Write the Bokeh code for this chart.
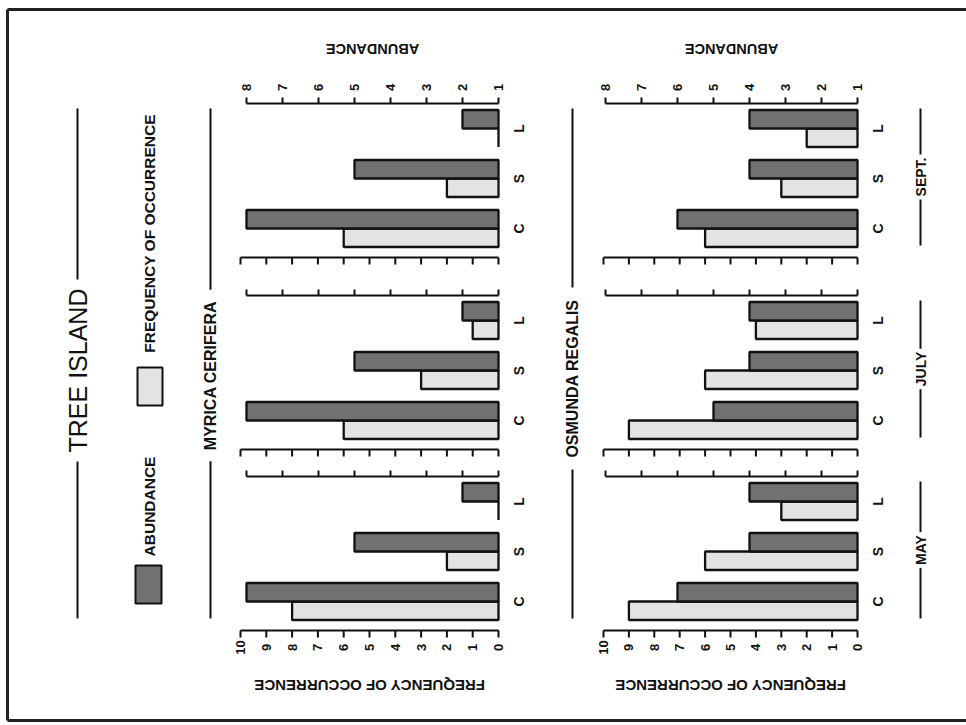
import math
from bokeh.plotting import figure
from bokeh.models import Range1d, ColumnDataSource
from bokeh.core.properties import value
from bokeh.embed import file_html
from bokeh.resources import INLINE

# ---- data -------------------------------------------------------------
months = ["MAY", "JULY", "SEPT."]
sites = ["C", "S", "L"]
species = ["MYRICA CERIFERA", "OSMUNDA REGALIS"]

# values per month (MAY, JULY, SEPT.), each listed for sites C, S, L
myrica_abundance = [[8, 5, 2], [8, 5, 2], [8, 5, 2]]
myrica_frequency = [[8, 2, 0], [6, 3, 1], [6, 2, 0]]
osmunda_abundance = [[6, 4, 4], [5, 4, 4], [6, 4, 4]]
osmunda_frequency = [[9, 6, 3], [9, 6, 4], [6, 3, 2]]

frequency_ticks = list(range(0, 11))
abundance_ticks = list(range(1, 9))

# ---- layout (pixels, y grows downward) ----------------------------------
W, H = 966, 725
FONT = value("Liberation Sans")
DARK = "#717171"
LIGHT = "#e3e3e3"
INK = "#111111"

baseline_px = [498, 857]          # where frequency 0 / abundance 1 sit
freq_px = [25.8, 25.4]            # pixels per frequency unit
abund_px = 36.0                   # pixels per abundance unit
first_center = {"SEPT.": 128, "JULY": 320, "MAY": 501}
site_step = 50
bar_h = 18.5
site_row = {"L": 0, "S": 1, "C": 2}   # top-to-bottom order inside a month

p = figure(width=W, height=H, x_range=Range1d(0, W), y_range=Range1d(H, 0),
           x_axis_type=None, y_axis_type=None, toolbar_location=None,
           output_backend="svg", min_border=0, outline_line_color=None,
           background_fill_color="white", border_fill_color="white")
p.grid.visible = False

for k, b in enumerate(baseline_px):
    p.extra_x_ranges[f"f{k}"] = Range1d(b / freq_px[k], (b - W) / freq_px[k])
    p.extra_x_ranges[f"a{k}"] = Range1d(1 + b / abund_px, 1 + (b - W) / abund_px)


def centers(month):
    return [first_center[month] + site_row[s] * site_step for s in sites]


def txt(x, y, text, size, angle, style="bold", range_name="default", color=INK, bg=None, pad=0):
    kw = {}
    if bg is not None:
        kw = dict(background_fill_color=bg, padding=pad)
    p.text(x=x, y=y, text=text, angle=angle, text_font=FONT, text_font_size=f"{size}px",
           text_font_style=style, text_align="center", text_baseline="middle",
           text_color=color, x_range_name=range_name, **kw)


# ---- bars and per-month axes ------------------------------------------
panel_data = [(myrica_abundance, myrica_frequency), (osmunda_abundance, osmunda_frequency)]
for k, (abund, freq) in enumerate(panel_data):
    ys, ab, fr = [], [], []
    for m, month in enumerate(months):
        ys += centers(month)
        ab += abund[m]
        fr += freq[m]
    src = ColumnDataSource(dict(
        y_dark=[y - bar_h / 2 for y in ys], y_light=[y + bar_h / 2 for y in ys],
        abundance=ab, frequency=fr))
    p.hbar(y="y_light", left=0, right="frequency", height=bar_h, source=src,
           x_range_name=f"f{k}", fill_color=LIGHT, line_color=INK, line_width=2.3)
    p.hbar(y="y_dark", left=1, right="abundance", height=bar_h, source=src,
           x_range_name=f"a{k}", fill_color=DARK, line_color=INK, line_width=2.3)

    for month in months:
        c = centers(month)
        ya = min(c) - 25
        yf = max(c) + 29
        # abundance axis with ticks pointing up
        p.segment(x0=[abundance_ticks[0]], x1=[abundance_ticks[-1]], y0=[ya], y1=[ya],
                  x_range_name=f"a{k}", line_color=INK, line_width=2.2)
        p.segment(x0=abundance_ticks, x1=abundance_ticks, y0=[ya] * len(abundance_ticks),
                  y1=[ya - 6] * len(abundance_ticks), x_range_name=f"a{k}",
                  line_color=INK, line_width=2)
        # frequency axis with ticks pointing down
        p.segment(x0=[frequency_ticks[0]], x1=[frequency_ticks[-1]], y0=[yf], y1=[yf],
                  x_range_name=f"f{k}", line_color=INK, line_width=2.2)
        p.segment(x0=frequency_ticks, x1=frequency_ticks, y0=[yf] * len(frequency_ticks),
                  y1=[yf + 7] * len(frequency_ticks), x_range_name=f"f{k}",
                  line_color=INK, line_width=2)
        if month == "SEPT.":
            txt(abundance_ticks, [ya - 16] * len(abundance_ticks),
                [str(t) for t in abundance_ticks], 13, math.pi / 2, range_name=f"a{k}")
        if month == "MAY":
            txt(frequency_ticks, [yf + 17] * len(frequency_ticks),
                [str(t) for t in frequency_ticks], 13, math.pi / 2, range_name=f"f{k}")
        # site letters beside the baseline
        txt([baseline_px[k] + 20] * len(sites), c, sites, 14, math.pi / 2)

    # axis titles
    txt([(abundance_ticks[0] + abundance_ticks[-1]) / 2], [48], ["ABUNDANCE"], 14.5, math.pi,
        range_name=f"a{k}")
    txt([(frequency_ticks[0] + frequency_ticks[-1]) / 2], [685], ["FREQUENCY OF OCCURRENCE"],
        15, math.pi, range_name=f"f{k}")

# ---- month labels on the right -----------------------------------------
for month in months:
    c = centers(month)
    top, bot = min(c) - 20, max(c) + 17
    p.segment(x0=[920], x1=[920], y0=[top], y1=[bot], line_color=INK, line_width=2)
    txt([920], [(top + bot) / 2], [month], 14, math.pi / 2, bg="white", pad=3)

# ---- titles with rules --------------------------------------------------
rule_top, rule_bot = 108, 618
for x, label, yc, size, style, pad in [(77, "TREE ISLAND", 370, 25, "normal", 9),
                                       (210, species[0], 375, 16, "bold", 11),
                                       (572, species[1], 378, 16, "bold", 12)]:
    p.segment(x0=[x], x1=[x], y0=[rule_top], y1=[rule_bot], line_color=INK, line_width=2)
    txt([x], [yc], [label], size, math.pi / 2, style=style, bg="white", pad=pad)

# ---- legend ---------------------------------------------------------------
p.quad(left=[135], right=[161], top=[565], bottom=[603], fill_color=DARK,
       line_color=INK, line_width=2)
p.quad(left=[137], right=[162], top=[367], bottom=[405], fill_color=LIGHT,
       line_color=INK, line_width=2)
txt([149], [506], ["ABUNDANCE"], 15.5, math.pi / 2)
txt([149], [233], ["FREQUENCY OF OCCURRENCE"], 15.5, math.pi / 2)

# ---- frame ------------------------------------------------------------------
p.segment(x0=[7, 7, 7], x1=[7, 975, 975], y0=[9, 9, 720], y1=[720, 9, 720],
          line_color="#222222", line_width=3)

open("out.html", "w").write(file_html(p, INLINE))
